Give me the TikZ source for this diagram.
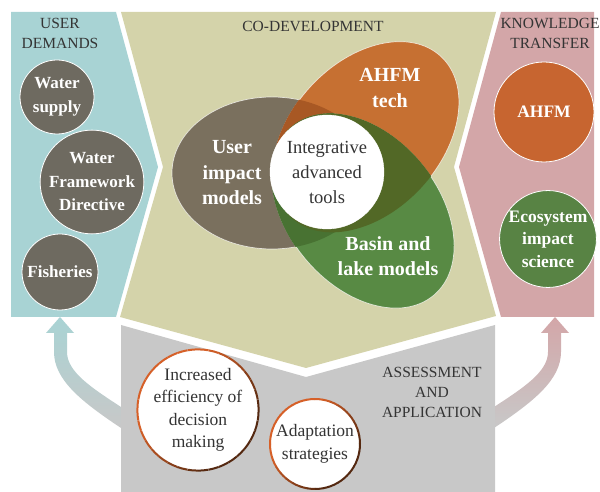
\documentclass[tikz,border=0pt]{standalone}
\usepackage{fontspec}
\setmainfont{Liberation Serif}
\definecolor{usercyan}{RGB}{168,211,212}
\definecolor{codevolive}{RGB}{212,211,170}
\definecolor{transferpink}{RGB}{211,166,168}
\definecolor{assessgray}{RGB}{200,200,200}
\definecolor{textdark}{RGB}{52,52,52}
\definecolor{demandgray}{RGB}{110,106,96}
\definecolor{venbrown}{RGB}{122,112,94}
\definecolor{venorange}{RGB}{198,112,50}
\definecolor{vengreen}{RGB}{88,138,68}
\definecolor{orangedeep}{RGB}{168,88,36}
\definecolor{greendeep}{RGB}{72,114,50}
\definecolor{olivedeep}{RGB}{82,104,38}
\definecolor{ahfmorange}{RGB}{199,101,48}
\definecolor{ecogreen}{RGB}{88,131,68}
\definecolor{ringorange}{RGB}{214,96,40}
\definecolor{ringbrown}{RGB}{84,40,16}
\tikzset{
  heading/.style={text=textdark, align=center, font=\fontsize{15.5}{20}\selectfont},
  demand/.style={circle, fill=demandgray, draw=white, line width=0.8pt, inner sep=0pt,
    text=white, align=center, font=\fontsize{17}{23.5}\selectfont\bfseries},
  transfer/.style={circle, draw=white, line width=0.8pt, inner sep=0pt,
    text=white, align=center, font=\fontsize{17.5}{22.5}\selectfont\bfseries},
  venlabel/.style={text=white, align=center, font=\fontsize{20}{25.5}\selectfont\bfseries},
  tools/.style={circle, fill=white, draw=white, inner sep=0pt, text=textdark,
    align=center, font=\fontsize{18.5}{25}\selectfont},
  outcome/.style={circle, fill=white, inner sep=0pt, outer sep=0pt, text=textdark,
    align=center, font=\fontsize{17.5}{22.5}\selectfont},
  venedge/.style={draw=white, draw opacity=0.7, line width=0.7pt},
  orangeaxis/.style={rotate around={47:(366,355)}},
  greenaxis/.style={rotate around={-50:(363,281)}}
}
\begin{document}
\begin{tikzpicture}[x=1pt, y=1pt]
\useasboundingbox (0,0) rectangle (600,492);
\fill[usercyan] (11,480) -- (116,480) -- (158,325) -- (116,175) -- (11,175) -- cycle;
\fill[codevolive] (121,480) -- (496,480) -- (454,325) -- (496,176) -- (306,124) -- (120,175) -- (163,325) -- cycle;
\fill[transferpink] (501,480) -- (594,480) -- (594,175) -- (501,175) -- (459,325) -- cycle;
\shade[top color=usercyan, bottom color=assessgray] (46,159) -- (60,175) -- (74,159) -- (67,159) -- (67,140)
  .. controls (67,120) and (92,104) .. (121,85) -- (121,64) .. controls (82,90) and (54,112) .. (54,140) -- (54,159) -- cycle;
\shade[top color=transferpink, bottom color=assessgray] (569,159) -- (555,175) -- (541,159) -- (548,159) -- (548,140)
  .. controls (548,120) and (523,104) .. (494,85) -- (494,64) .. controls (533,90) and (561,112) .. (561,140) -- (561,159) -- cycle;
\fill[assessgray] (121,167) -- (306,115) -- (495,167) -- (495,0) -- (121,0) -- cycle;

\node[heading] (users) at (60,459) {USER\\DEMANDS};
\node[heading] (codev) at (313,466) {CO-DEVELOPMENT};
\node[heading] (knowledge) at (550,459) {KNOWLEDGE\\TRANSFER};
\node[heading] (assess) at (432,100) {ASSESSMENT\\AND\\APPLICATION};

\node[demand, minimum size=74pt] (supply) at (57,395) {Water\\supply};
\node[demand, minimum size=96pt] (wfd) at (92,310) {Water\\Framework\\Directive};
\node[demand, minimum size=76pt] (fish) at (60,220) {Fisheries};
\node[transfer, fill=ahfmorange, minimum size=100pt] (ahfm) at (544,380) {AHFM};
\node[transfer, fill=ecogreen, minimum size=96pt] (eco) at (548,253) {Ecosystem\\impact\\science};

\fill[venbrown, venedge] (272,319) ellipse [x radius=100pt, y radius=76pt];
\fill[venorange, venedge, orangeaxis] (366,355) ellipse [x radius=110pt, y radius=75pt];
\begin{scope}
\clip (272,319) ellipse [x radius=100pt, y radius=76pt];
\filldraw[orangedeep, line width=1pt, orangeaxis] (366,355) ellipse [x radius=110pt, y radius=75pt];
\end{scope}
\fill[vengreen, venedge, greenaxis] (363,281) ellipse [x radius=110pt, y radius=75pt];
\begin{scope}
\clip (272,319) ellipse [x radius=100pt, y radius=76pt];
\filldraw[greendeep, line width=1pt, greenaxis] (363,281) ellipse [x radius=110pt, y radius=75pt];
\end{scope}
\begin{scope}
\clip[orangeaxis] (366,355) ellipse [x radius=110pt, y radius=75pt];
\filldraw[olivedeep, line width=1pt, greenaxis] (363,281) ellipse [x radius=110pt, y radius=75pt];
\end{scope}

\node[venlabel] (userimpact) at (232,319) {User\\impact\\models};
\node[venlabel] (ahfmtech) at (390,404) {AHFM\\tech};
\node[venlabel] (basin) at (388,236) {Basin and\\lake models};
\node[tools, minimum size=114pt] (core) at (327,320) {Integrative\\advanced\\tools};

\node[outcome, minimum size=114pt] (incr) at (198,82) {Increased\\efficiency of\\decision\\making};
\node[outcome, minimum size=90pt] (adapt) at (315,48) {Adaptation\\strategies};
\foreach \nd/\r in {incr/57pt, adapt/45pt}
  \foreach \a in {0,10,...,350} {
    \pgfmathtruncatemacro\mix{min(100,max(0,60+80*cos(\a-135)))}
    \draw[line width=2pt, ringorange!\mix!ringbrown] (\nd.\a) arc[start angle=\a, delta angle=10.5, radius=\r];
  }
\end{tikzpicture}
\end{document}
